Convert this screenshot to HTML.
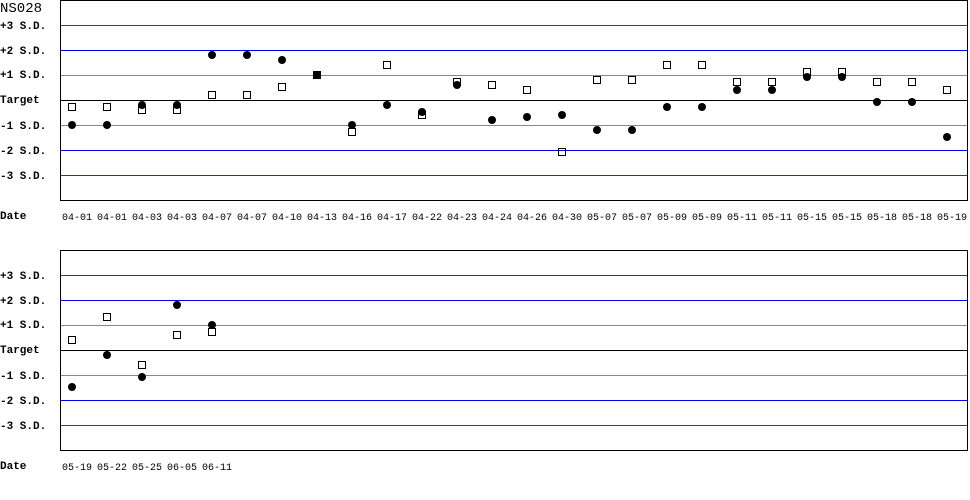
<!DOCTYPE html>
<html><head><meta charset="utf-8"><style>
html,body{margin:0;padding:0;background:#fff;width:970px;height:500px;overflow:hidden}
svg text{font-family:"Liberation Mono",monospace;font-size:11px}
.l{font-weight:bold}
.d text{font-size:10px}
line{shape-rendering:crispEdges}
</style></head><body>
<svg width="970" height="500" xmlns="http://www.w3.org/2000/svg">
<defs>
<g id="grid">
<line x1="60" y1="25.5" x2="968" y2="25.5" stroke="#cc0000"/>
<line x1="60" y1="50.5" x2="968" y2="50.5" stroke="#0000ee"/>
<line x1="60" y1="75.5" x2="968" y2="75.5" stroke="#888"/>
<line x1="60" y1="100.5" x2="968" y2="100.5" stroke="#000"/>
<line x1="60" y1="125.5" x2="968" y2="125.5" stroke="#888"/>
<line x1="60" y1="150.5" x2="968" y2="150.5" stroke="#0000ee"/>
<line x1="60" y1="175.5" x2="968" y2="175.5" stroke="#cc0000"/>
<rect x="60.5" y="0.5" width="907" height="200" fill="none" stroke="#000" shape-rendering="crispEdges"/>
<text class="l" x="0" y="29">+3 S.D.</text>
<text class="l" x="0" y="54">+2 S.D.</text>
<text class="l" x="0" y="78">+1 S.D.</text>
<text class="l" x="0" y="103">Target</text>
<text class="l" x="0" y="129">-1 S.D.</text>
<text class="l" x="0" y="154">-2 S.D.</text>
<text class="l" x="0" y="179">-3 S.D.</text>
<text class="l" x="0" y="219">Date</text>
</g>
</defs>
<text x="0" y="12" style="font-size:14px">NS028</text>
<use href="#grid"/>
<use href="#grid" transform="translate(0,250)"/>
<g fill="none" stroke="#000">
<rect x="68.5" y="103.5" width="7" height="7"/><rect x="103.5" y="103.5" width="7" height="7"/>
<rect x="138.5" y="106.5" width="7" height="7"/><rect x="173.5" y="106.5" width="7" height="7"/>
<rect x="208.5" y="91.5" width="7" height="7"/><rect x="243.5" y="91.5" width="7" height="7"/>
<rect x="278.5" y="83.5" width="7" height="7"/><rect x="348.5" y="128.5" width="7" height="7"/>
<rect x="383.5" y="61.5" width="7" height="7"/><rect x="418.5" y="111.5" width="7" height="7"/>
<rect x="453.5" y="78.5" width="7" height="7"/><rect x="488.5" y="81.5" width="7" height="7"/>
<rect x="523.5" y="86.5" width="7" height="7"/><rect x="558.5" y="148.5" width="7" height="7"/>
<rect x="593.5" y="76.5" width="7" height="7"/><rect x="628.5" y="76.5" width="7" height="7"/>
<rect x="663.5" y="61.5" width="7" height="7"/><rect x="698.5" y="61.5" width="7" height="7"/>
<rect x="733.5" y="78.5" width="7" height="7"/><rect x="768.5" y="78.5" width="7" height="7"/>
<rect x="803.5" y="68.5" width="7" height="7"/><rect x="838.5" y="68.5" width="7" height="7"/>
<rect x="873.5" y="78.5" width="7" height="7"/><rect x="908.5" y="78.5" width="7" height="7"/>
<rect x="943.5" y="86.5" width="7" height="7"/>
<rect x="68.5" y="336.5" width="7" height="7"/><rect x="103.5" y="313.5" width="7" height="7"/>
<rect x="138.5" y="361.5" width="7" height="7"/><rect x="173.5" y="331.5" width="7" height="7"/>
<rect x="208.5" y="328.5" width="7" height="7"/>
</g>
<rect x="313" y="71" width="8" height="8" fill="#000"/>
<g fill="#000">
<circle cx="72" cy="125" r="4"/><circle cx="107" cy="125" r="4"/>
<circle cx="142" cy="105" r="4"/><circle cx="177" cy="105" r="4"/>
<circle cx="212" cy="55" r="4"/><circle cx="247" cy="55" r="4"/>
<circle cx="282" cy="60" r="4"/><circle cx="352" cy="125" r="4"/>
<circle cx="387" cy="105" r="4"/><circle cx="422" cy="112" r="4"/>
<circle cx="457" cy="85" r="4"/><circle cx="492" cy="120" r="4"/>
<circle cx="527" cy="117" r="4"/><circle cx="562" cy="115" r="4"/>
<circle cx="597" cy="130" r="4"/><circle cx="632" cy="130" r="4"/>
<circle cx="667" cy="107" r="4"/><circle cx="702" cy="107" r="4"/>
<circle cx="737" cy="90" r="4"/><circle cx="772" cy="90" r="4"/>
<circle cx="807" cy="77" r="4"/><circle cx="842" cy="77" r="4"/>
<circle cx="877" cy="102" r="4"/><circle cx="912" cy="102" r="4"/>
<circle cx="947" cy="137" r="4"/>
<circle cx="72" cy="387" r="4"/><circle cx="107" cy="355" r="4"/>
<circle cx="142" cy="377" r="4"/><circle cx="177" cy="305" r="4"/>
<circle cx="212" cy="325" r="4"/>
</g>
<g text-anchor="middle" class="d">
<text x="77" y="220">04-01</text><text x="112" y="220">04-01</text><text x="147" y="220">04-03</text>
<text x="182" y="220">04-03</text><text x="217" y="220">04-07</text><text x="252" y="220">04-07</text>
<text x="287" y="220">04-10</text><text x="322" y="220">04-13</text><text x="357" y="220">04-16</text>
<text x="392" y="220">04-17</text><text x="427" y="220">04-22</text><text x="462" y="220">04-23</text>
<text x="497" y="220">04-24</text><text x="532" y="220">04-26</text><text x="567" y="220">04-30</text>
<text x="602" y="220">05-07</text><text x="637" y="220">05-07</text><text x="672" y="220">05-09</text>
<text x="707" y="220">05-09</text><text x="742" y="220">05-11</text><text x="777" y="220">05-11</text>
<text x="812" y="220">05-15</text><text x="847" y="220">05-15</text><text x="882" y="220">05-18</text>
<text x="917" y="220">05-18</text><text x="952" y="220">05-19</text>
<text x="77" y="470">05-19</text><text x="112" y="470">05-22</text><text x="147" y="470">05-25</text>
<text x="182" y="470">06-05</text><text x="217" y="470">06-11</text>
</g>
</svg>
</body></html>
